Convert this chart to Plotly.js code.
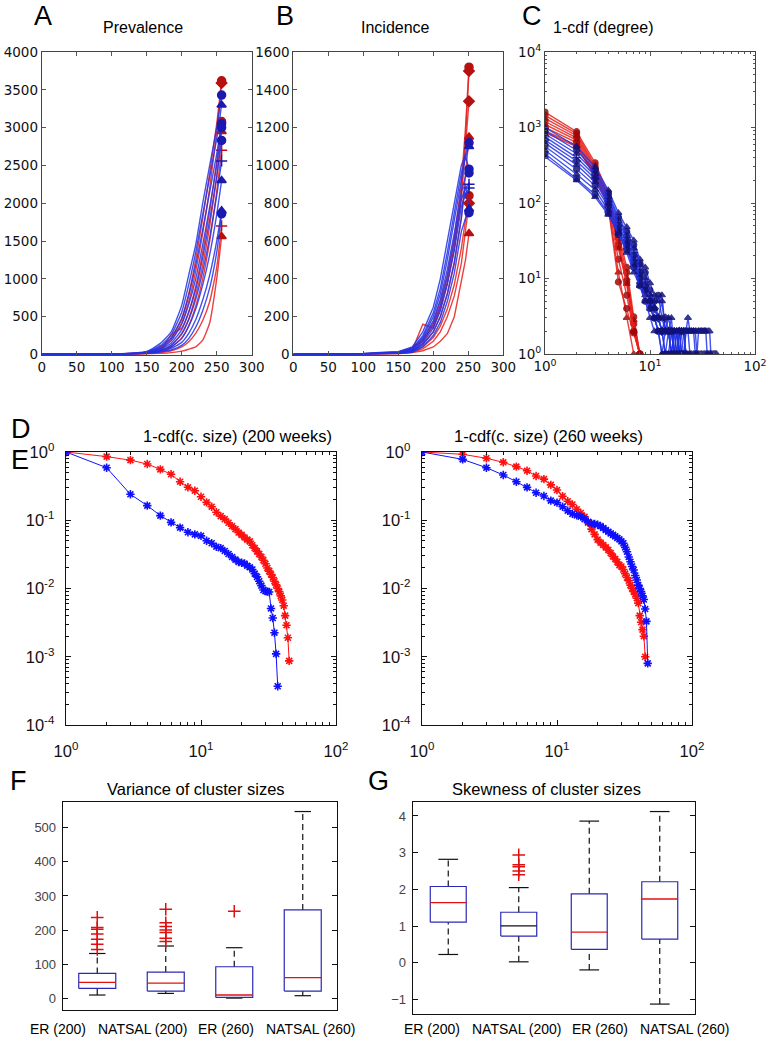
<!DOCTYPE html>
<html><head><meta charset="utf-8">
<script src="https://cdn.plot.ly/plotly-3.0.1.min.js"></script>
<style>html,body{margin:0;padding:0;background:#fff}#chart{width:774px;height:1041px}</style>
</head><body><div id="chart"></div>
<script>
// ---------------- DATA ----------------
// Panel A: prevalence (weeks)
const weeksA = [0,100,150,170,185,200,210,220,230,240,250,257];
const prevRed = [
  [0,3,30,100,220,480,800,1250,1800,2400,3050,3620],
  [0,3,25,80,200,420,700,1100,1600,2200,2950,3590],
  [0,2,20,60,260,350,560,900,1350,1900,2550,3080],
  [0,2,18,50,120,280,470,780,1180,1700,2350,2950],
  [0,2,15,40,95,220,380,640,1000,1500,2150,2700],
  [0,1,10,25,50,100,170,280,450,700,1150,1700],
  [0,1,8,15,25,45,70,100,190,420,1000,1560]
];
const prevBlue = [
  [0,4,40,150,300,650,1050,1450,2000,2500,3000,3430],
  [0,3,35,120,260,560,920,1350,1850,2350,2850,3300],
  [0,3,30,100,220,470,780,1180,1650,2150,2650,3050],
  [0,3,28,80,180,400,660,1000,1450,1950,2500,3000],
  [0,2,25,70,150,330,560,860,1280,1780,2350,2830],
  [0,2,22,60,120,270,460,730,1100,1550,2100,2560],
  [0,2,20,50,100,210,370,600,920,1320,1850,2300],
  [0,1,18,40,80,160,280,460,720,1050,1500,1900],
  [0,1,15,35,60,120,210,360,580,880,1350,1860]
];
const prevRedSym = ['circle','diamond','circle','triangle-up','cross-thin-open','cross-thin-open','triangle-up'];
const prevBlueSym = ['circle','triangle-up','circle','circle','circle','cross-thin-open','triangle-up','triangle-up','circle'];

// Panel B: incidence
const weeksB = [0,60,100,130,150,170,185,200,210,220,230,240,246,251];
const incRed = [
  [0,1,3,8,12,30,80,170,280,420,620,900,1200,1520],
  [0,0,2,6,10,25,160,140,240,380,570,850,1150,1500],
  [0,1,4,10,14,35,70,150,250,380,560,820,1080,1340],
  [0,0,2,5,8,20,55,120,200,320,480,720,950,1150],
  [0,0,2,5,6,15,40,90,150,240,370,560,720,840],
  [0,0,1,4,5,12,30,70,120,200,310,480,650,800],
  [0,0,1,3,4,10,20,40,70,110,200,380,500,640]
];
const incBlue = [
  [0,1,5,12,15,40,120,250,400,600,800,1000,1060,1120],
  [0,0,3,8,10,30,100,220,350,540,750,960,1040,1100],
  [0,1,4,10,12,35,90,200,320,500,700,920,1050,980],
  [0,0,2,6,8,25,80,180,290,450,640,860,940,960],
  [0,1,3,10,10,20,70,160,260,410,600,820,880,900],
  [0,0,2,5,8,18,60,140,230,370,550,780,850,880],
  [0,0,2,6,6,15,50,120,200,320,490,720,900,770],
  [0,0,1,4,5,12,40,100,170,280,430,650,720,750]
];
const incRedSym = ['circle','diamond','diamond','triangle-up','circle','diamond','triangle-up'];
const incBlueSym = ['circle','triangle-up','circle','circle','cross-thin-open','cross-thin-open','triangle-up','circle'];

// Panel C: 1-cdf(degree)
const degrees = [1,2,3,4,5,6,7,8,9,10,11,12,13,14,15,16,17,18,19,20,21,22,23,24,25,26,27,28,29,30,31,32,33,34,35,36,37,38,39,40,41,42,43];
const degRed = [
  [1600,880,340,135,40,14,3.1,1],
  [1450,830,310,125,34,12,2.5,1],
  [1320,780,290,118,30,10,2.8,1],
  [1200,730,270,110,27,9,2,1],
  [1100,680,250,102,25,8.5,2,1],
  [1000,630,235,96,18,6,2,1],
  [900,580,225,92,12,3,1],
  [850,560,222,90,9,4,1.9,1]
];
const degBlue = [
  [1000,560,300,148,74,48,32,18,14,8.7,6,5,6,2,3,2,1,2,1,1,2,2,2,1],
  [900,500,270,135,65,42,28,16,12,7,5,6,3,2,2,1,2,2,1,2,2,1],
  [820,450,250,125,60,38,25,15,10,6,4,3,5,2,2,3,1,2,2,1,1,2,3,2,2,2,1],
  [750,400,230,115,55,35,22,13,9,6,5,3,2,2,2,1,2,1,1,2,2,1],
  [680,360,210,105,50,32,20,12,8,5,4,3,2,3,2,2,1,1,2,1],
  [620,320,190,98,46,30,18,11,7,5,4,3,2,2,2,2,2,1,2,2,2,2,2,2,2,2,2,2,2,2,2,2,2,2,1],
  [560,280,170,90,42,28,16,10,7,5,3,2,2,1,1,2,1],
  [500,240,150,80,40,26,15,9,6,4,3,2,1,2,2,2,2,2,1,1,1,2,2,2,2,2,2,1,2,2,2,2,2,2,2,2,2,1],
  [450,210,130,74,38,24,14,8,5,4,3,2,2,1,2,1],
  [410,200,120,70,40,22,12,8,5,3,2,2,1,1,1,1,1,1,1,1,1,1,1,1,1,1,1,1,1,1,1,1,1,1,1,1,1,1,1,1,1,1,1]
];
const degRedSym = ['circle','circle','triangle-up','circle','triangle-up','circle','triangle-up','circle'];
const degBlueSym = ['triangle-up','circle','triangle-up','cross-thin-open','diamond','triangle-up','circle','triangle-up','circle','triangle-up'];

// Panel D: 1-cdf(cluster size) at 200 weeks
const sizeD_red = [1,2,3,4,5,6,7,8,9,10,11,12,13,14,15,16,17,18,19,20,21,22,23,24,25,26,27,28,29,30,31,32,33,34,35,36,37,38,39,40,41,42,43,44,45];
const cdfD_red = [1.0,0.855,0.76,0.667,0.557,0.471,0.367,0.304,0.271,0.221,0.183,0.158,0.131,0.115,0.104,0.092,0.082,0.074,0.066,0.061,0.056,0.052,0.049,0.043,0.039,0.035,0.032,0.029,0.026,0.023,0.020,0.018,0.016,0.0145,0.0128,0.0113,0.0100,0.0090,0.0078,0.0068,0.0056,0.0040,0.0029,0.0019,0.00087];
const sizeD_blue = [1,2,3,4,5,6,7,8,9,10,11,12,13,14,15,16,17,18,19,20,21,22,23,24,25,26,27,28,29,30,31,32,33,34,35,36,37];
const cdfD_blue = [1.0,0.589,0.24,0.164,0.117,0.093,0.078,0.0666,0.062,0.059,0.050,0.046,0.041,0.039,0.0355,0.032,0.029,0.0265,0.0245,0.0238,0.0232,0.0215,0.0205,0.019,0.0165,0.0148,0.0128,0.0110,0.0095,0.0092,0.009,0.0089,0.0051,0.0037,0.00225,0.0011,0.00037];

// Panel E: 1-cdf(cluster size) at 260 weeks
const sizeE_red = [1,2,3,4,5,6,7,8,9,10,11,12,13,14,15,16,17,18,19,20,21,22,23,24,25,26,27,28,29,30,31,32,33,34,35,36,37,38,39,40,41,42,43,44,45];
const cdfE_red = [1.0,0.925,0.81,0.706,0.61,0.532,0.445,0.40,0.33,0.277,0.225,0.19,0.17,0.145,0.128,0.112,0.092,0.074,0.062,0.052,0.047,0.0434,0.040,0.0367,0.033,0.0295,0.027,0.0245,0.022,0.021,0.019,0.0165,0.0145,0.013,0.0112,0.010,0.0090,0.0082,0.0072,0.0061,0.004,0.0032,0.0025,0.002,0.001];
const sizeE_blue = [1,2,3,4,5,6,7,8,9,10,11,12,13,14,15,16,17,18,19,20,21,22,23,24,25,26,27,28,29,30,31,32,33,34,35,36,37,38,39,40,41,42,43,44,45,46,47];
const cdfE_blue = [1.0,0.78,0.589,0.46,0.367,0.303,0.253,0.227,0.194,0.181,0.158,0.138,0.124,0.118,0.113,0.104,0.095,0.090,0.088,0.086,0.082,0.077,0.072,0.068,0.064,0.061,0.058,0.055,0.0526,0.049,0.046,0.040,0.0346,0.029,0.0247,0.021,0.0187,0.0155,0.0133,0.0112,0.010,0.009,0.0078,0.0069,0.005,0.0033,0.0008];

// Panels F, G: box plot summaries
const groups = ['ER (200)','NATSAL (200)','ER (260)','NATSAL (260)'];
const varQ1 = [28.5,20.6,2,20.6];
const varMed = [46,44,9,60];
const varQ3 = [72.5,76.5,92,259];
const varLo = [9,13.7,0,7];
const varHi = [131,153,148,548];
const varOut = [[143,158,173,188,202,207,237],[166,176,193,200,210,221,261],[255],[]];
const skQ1 = [1.11,0.73,0.37,0.65];
const skMed = [1.64,1.01,0.84,1.74];
const skQ3 = [2.08,1.38,1.88,2.21];
const skLo = [0.23,0.03,-0.19,-1.12];
const skHi = [2.82,2.05,3.86,4.12];
const skOut = [[],[2.4,2.5,2.62,2.67,2.94],[],[]];
const skMedColor = ['#e01010','#111111','#e01010','#e01010'];

// ---------------- STYLE ----------------
const W = 774, H = 1041;
const FONT = 'Liberation Sans, Arial, sans-serif';
const MPLFONT = 'DejaVu Sans, sans-serif';
const RED = '#e8201c', BLUE = '#2233e6', RED_M = '#b81010', BLUE_M = '#1a1ab0';
const traces = [];

function dx(a,b){return [a/W,b/W];}
function dy(t,b){return [1-b/H,1-t/H];}

function curveSet(xs, sets, syms, color, mcolor, xa, ya, shape, endOnly, mcolorPts) {
  sets.forEach((ys,i)=>{
    const xx = xs.slice(0, ys.length);
    traces.push({type:'scatter', mode: endOnly ? 'lines' : 'lines+markers', x:xx, y:ys, xaxis:xa, yaxis:ya,
      line:{color:color, width:1.4, shape:shape||'linear', smoothing:0.5}, opacity:0.85, hoverinfo:'skip',
      marker:{symbol:syms[i], size:6, color:mcolorPts||mcolor, line:{color:mcolorPts||mcolor, width:1.2}}});
    if (endOnly) {
      traces.push({type:'scatter', mode:'markers', x:[xx[xx.length-1]], y:[ys[ys.length-1]], xaxis:xa, yaxis:ya,
        marker:{symbol:syms[i], size:8, color:mcolor, line:{color:mcolor, width:1.5}}, hoverinfo:'skip'});
    }
  });
}

curveSet(weeksA, prevRed, prevRedSym, RED, RED_M, 'x', 'y', 'spline', true);
curveSet(weeksA, prevBlue, prevBlueSym, BLUE, BLUE_M, 'x', 'y', 'spline', true);
curveSet(weeksB, incRed, incRedSym, RED, RED_M, 'x2', 'y2', 'linear', true);
curveSet(weeksB, incBlue, incBlueSym, BLUE, BLUE_M, 'x2', 'y2', 'linear', true);
curveSet(degrees, degRed, degRedSym, RED, RED_M, 'x3', 'y3', 'linear', false, '#a00808');
curveSet(degrees, degBlue, degBlueSym, BLUE, BLUE_M, 'x3', 'y3', 'linear', false, '#12127a');

function cdfTrace(x, y, color, xa, ya) {
  traces.push({type:'scatter', mode:'lines+markers', x:x, y:y, xaxis:xa, yaxis:ya, hoverinfo:'skip',
    line:{color:color, width:1}, marker:{symbol:'asterisk-open', size:7, color:color, line:{color:color, width:1.6}}});
}
cdfTrace(sizeD_red, cdfD_red, '#ff1010', 'x4', 'y4');
cdfTrace(sizeD_blue, cdfD_blue, '#1010ff', 'x4', 'y4');
cdfTrace(sizeE_red, cdfE_red, '#ff1010', 'x5', 'y5');
cdfTrace(sizeE_blue, cdfE_blue, '#1010ff', 'x5', 'y5');

function boxSet(q1, med, q3, lo, hi, out, medColors, xa, ya, hw, cw) {
  const BOX = '#2a2ab4';
  groups.forEach((g,k)=>{
    const i = k+1;
    traces.push({type:'scatter', mode:'lines', x:[i,i,null,i,i], y:[lo[k],q1[k],null,q3[k],hi[k]], xaxis:xa, yaxis:ya,
      line:{color:'#111', width:1.2, dash:'6px,4px'}, hoverinfo:'skip'});
    traces.push({type:'scatter', mode:'lines', x:[i-cw,i+cw,null,i-cw,i+cw], y:[lo[k],lo[k],null,hi[k],hi[k]], xaxis:xa, yaxis:ya,
      line:{color:'#111', width:1.2}, hoverinfo:'skip'});
    traces.push({type:'scatter', mode:'lines', x:[i-hw,i+hw,i+hw,i-hw,i-hw], y:[q1[k],q1[k],q3[k],q3[k],q1[k]], xaxis:xa, yaxis:ya,
      line:{color:BOX, width:1.2}, hoverinfo:'skip'});
    traces.push({type:'scatter', mode:'lines', x:[i-hw,i+hw], y:[med[k],med[k]], xaxis:xa, yaxis:ya,
      line:{color:medColors[k], width:1.3}, hoverinfo:'skip'});
    if (out[k].length) {
      traces.push({type:'scatter', mode:'markers', x:out[k].map(()=>i), y:out[k], xaxis:xa, yaxis:ya,
        marker:{symbol:'cross-thin-open', size:9, color:'#e01010', line:{color:'#e01010', width:1.5}}, hoverinfo:'skip'});
    }
  });
}
boxSet(varQ1, varMed, varQ3, varLo, varHi, varOut, ['#e01010','#e01010','#e01010','#e01010'], 'x6', 'y6', 0.27, 0.12);
boxSet(skQ1, skMed, skQ3, skLo, skHi, skOut, skMedColor, 'x7', 'y7', 0.255, 0.14);

// ---------------- AXES ----------------
const mpl = {showgrid:false, zeroline:false, showline:true, linecolor:'#444', linewidth:1, mirror:'ticks',
  ticks:'inside', ticklen:4, tickcolor:'#555', tickfont:{family:MPLFONT, size:13.5, color:'#111'}};
const sup = (e)=>'10<sup>'+e+'</sup>';
const logMinor = (lo, hi)=>{ const v=[]; for(let e=lo;e<hi;e++){ for(let m=2;m<=9;m++) v.push(m*Math.pow(10,e)); } return v; };
const mat = {showgrid:false, zeroline:false, showline:true, linecolor:'#111', linewidth:1.3, mirror:'ticks',
  ticks:'inside', ticklen:5, tickcolor:'#111', tickfont:{family:FONT, size:16.5, color:'#111'}};

const layout = {
  width:W, height:H, margin:{l:0,r:0,t:0,b:0}, paper_bgcolor:'#fff', plot_bgcolor:'#fff', showlegend:false,
  font:{family:FONT, color:'#000'},
  xaxis: Object.assign({}, mpl, {domain:dx(41.7,251.7), anchor:'y', range:[0,300], tick0:0, dtick:50}),
  yaxis: Object.assign({}, mpl, {domain:dy(52,354.5), anchor:'x', range:[0,4000], tick0:0, dtick:500}),
  xaxis2: Object.assign({}, mpl, {domain:dx(293.3,503.3), anchor:'y2', range:[0,300], tick0:0, dtick:50}),
  yaxis2: Object.assign({}, mpl, {domain:dy(52,354.5), anchor:'x2', range:[0,1600], tick0:0, dtick:200}),
  xaxis3: Object.assign({}, mpl, {domain:dx(545,755), anchor:'y3', type:'log', range:[0,2],
    tickvals:[1,10,100], ticktext:[sup(0),sup(1),sup(2)], minor:{tickvals:logMinor(0,2), ticks:'inside', ticklen:2, tickcolor:'#555'}}),
  yaxis3: Object.assign({}, mpl, {domain:dy(52,354), anchor:'x3', type:'log', range:[0,4],
    tickvals:[1,10,100,1000,10000], ticktext:[sup(0),sup(1),sup(2),sup(3),sup(4)], minor:{tickvals:logMinor(0,4), ticks:'inside', ticklen:2, tickcolor:'#555'}}),
  xaxis4: Object.assign({}, mat, {domain:dx(66,336), anchor:'y4', type:'log', range:[0,2], ticklabelstandoff:11,
    tickvals:[1,10,100], ticktext:[sup(0),sup(1),sup(2)], minor:{tickvals:logMinor(0,2), ticks:'inside', ticklen:3, tickcolor:'#111'}}),
  yaxis4: Object.assign({}, mat, {domain:dy(452,725), anchor:'x4', type:'log', range:[-4,0], ticklabelstandoff:7,
    tickvals:[1e-4,1e-3,1e-2,1e-1,1], ticktext:[sup(-4),sup(-3),sup(-2),sup(-1),sup(0)], minor:{tickvals:logMinor(-4,0), ticks:'inside', ticklen:3, tickcolor:'#111'}}),
  xaxis5: Object.assign({}, mat, {domain:dx(422,692), anchor:'y5', type:'log', range:[0,2], ticklabelstandoff:11,
    tickvals:[1,10,100], ticktext:[sup(0),sup(1),sup(2)], minor:{tickvals:logMinor(0,2), ticks:'inside', ticklen:3, tickcolor:'#111'}}),
  yaxis5: Object.assign({}, mat, {domain:dy(452,725), anchor:'x5', type:'log', range:[-4,0], ticklabelstandoff:7,
    tickvals:[1e-4,1e-3,1e-2,1e-1,1], ticktext:[sup(-4),sup(-3),sup(-2),sup(-1),sup(0)], minor:{tickvals:logMinor(-4,0), ticks:'inside', ticklen:3, tickcolor:'#111'}}),
  xaxis6: Object.assign({}, mat, {domain:dx(63,337), anchor:'y6', range:[0.5,4.5], showticklabels:false, ticks:'', mirror:true}),
  yaxis6: Object.assign({}, mat, {domain:dy(802,1010), anchor:'x6', range:[-35,576], tickvals:[0,100,200,300,400,500], tickfont:{family:FONT,size:13,color:'#444'}, ticklabelstandoff:3}),
  xaxis7: Object.assign({}, mat, {domain:dx(413,695), anchor:'y7', range:[0.5,4.5], showticklabels:false, ticks:'', mirror:true}),
  yaxis7: Object.assign({}, mat, {domain:dy(802,1014), anchor:'x7', range:[-1.39,4.38], tickvals:[-1,0,1,2,3,4], tickfont:{family:FONT,size:13,color:'#444'}, ticklabelstandoff:3}),
  annotations: []
};

function ann(text, x, y, size) {
  layout.annotations.push({text:text, x:x/W, y:1-y/H, xref:'paper', yref:'paper', showarrow:false,
    xanchor:'center', yanchor:'middle', font:{family:FONT, size:size, color:'#000'}});
}
ann('A', 43, 16, 27); ann('B', 285, 16, 27); ann('C', 532, 16, 27);
ann('D', 21, 429, 27); ann('E', 20, 460, 27); ann('F', 18, 781, 27); ann('G', 378, 781, 27);
ann('Prevalence', 143, 28, 16); ann('Incidence', 395, 28, 16); ann('1-cdf (degree)', 603, 28, 16);
ann('1-cdf(c. size) (200 weeks)', 237.5, 436, 16.5); ann('1-cdf(c. size) (260 weeks)', 548, 436, 16.5);
ann('Variance of cluster sizes', 195.5, 789, 16.5); ann('Skewness of cluster sizes', 546, 789, 16.5);
// category labels under the box plots (spread wider than the boxes, as in the figure)
const labelCentersF = [58, 142, 226, 310];
const labelCentersG = [432.5, 516, 600, 684];
groups.forEach((g,k)=>{ ann(g, labelCentersF[k], 1029, 14); ann(g, labelCentersG[k], 1029, 14); });

Plotly.newPlot('chart', traces, layout, {staticPlot:true, displayModeBar:false});
</script></body></html>
